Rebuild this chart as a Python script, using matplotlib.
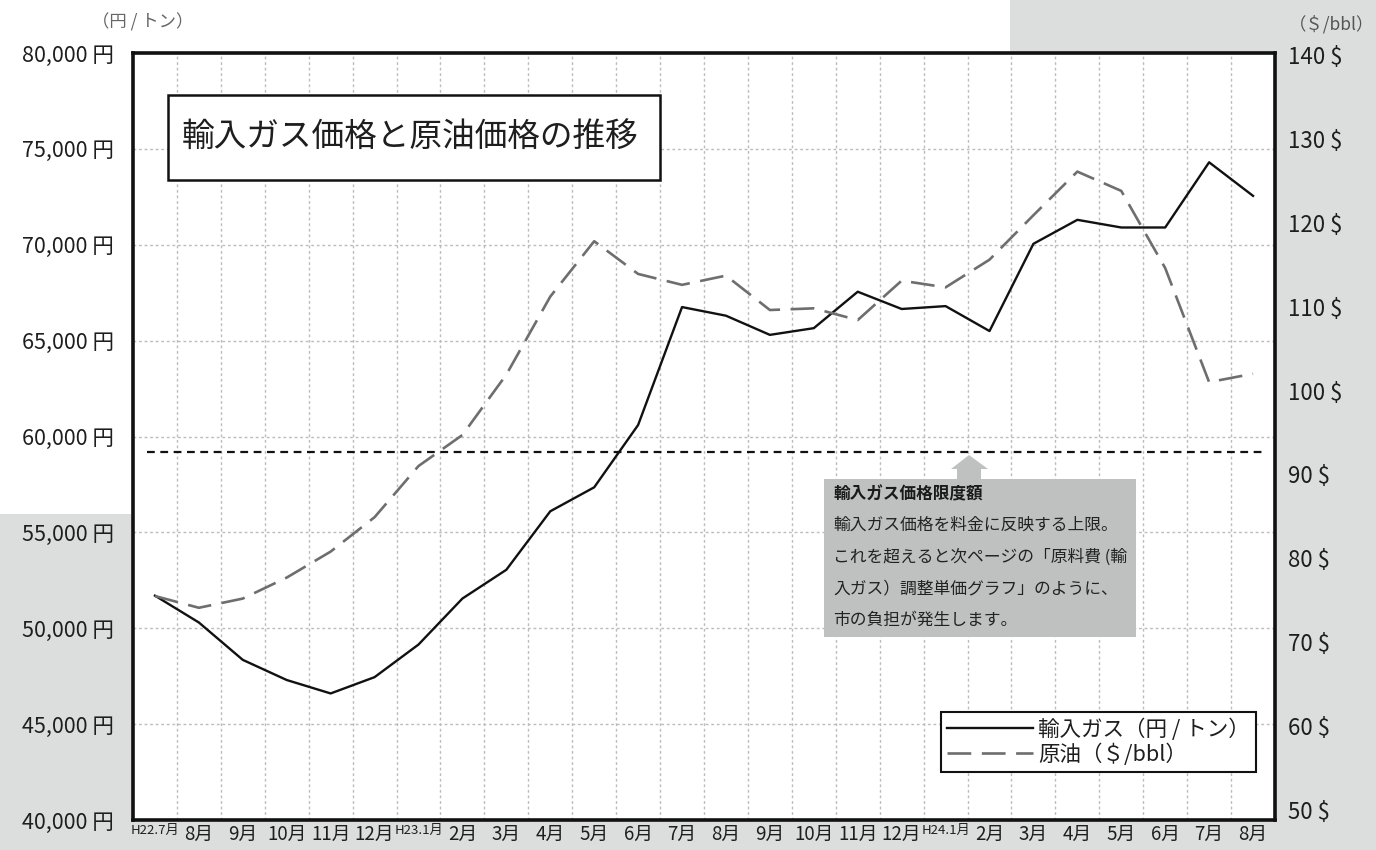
import matplotlib
matplotlib.use("Agg")
import matplotlib.pyplot as plt
from matplotlib.patches import Rectangle, Polygon
import numpy as np

plt.rcParams['font.family'] = ['Noto Sans CJK JP', 'DejaVu Sans']

months = ["H22.7月", "8月", "9月", "10月", "11月", "12月", "H23.1月", "2月", "3月", "4月",
          "5月", "6月", "7月", "8月", "9月", "10月", "11月", "12月", "H24.1月", "2月",
          "3月", "4月", "5月", "6月", "7月", "8月"]
gas_yen_per_ton = [51700, 50300, 48350, 47300, 46600, 47450, 49150, 51550, 53050, 56100,
                   57350, 60600, 66750, 66300, 65300, 65650, 67550, 66650, 66800, 65500,
                   70050, 71300, 70900, 70900, 74300, 72550]
crude_usd_per_bbl = [75.5, 74.1, 75.2, 77.7, 80.8, 84.9, 91.0, 94.7, 101.9, 111.2,
                     117.8, 113.9, 112.6, 113.7, 109.6, 109.8, 108.4, 113.1, 112.3, 115.6,
                     120.9, 126.1, 123.8, 114.6, 101.0, 102.0]
gas_limit = 59200
left_ticks = [40000, 45000, 50000, 55000, 60000, 65000, 70000, 75000, 80000]
right_ticks = [50, 60, 70, 80, 90, 100, 110, 120, 130, 140]

W, H = 1376, 850
fig = plt.figure(figsize=(W / 100, H / 100), dpi=100)
fig.patch.set_facecolor('#dcdddd')

def fx(px):
    return px / W

def fy(py):
    return 1 - py / H

# white background regions
fig.patches.append(Rectangle((0, fy(53)), fx(1010), 53 / H, transform=fig.transFigure,
                             facecolor='white', edgecolor='none', zorder=-10))
fig.patches.append(Rectangle((0, fy(514)), fx(133), (514 - 53) / H, transform=fig.transFigure,
                             facecolor='white', edgecolor='none', zorder=-10))

ax_l, ax_r, ax_t, ax_b = 133, 1275, 53, 820
ax = fig.add_axes([fx(ax_l), fy(ax_b), (ax_r - ax_l) / W, (ax_b - ax_t) / H])
ax.set_facecolor('white')
x = np.arange(len(months))

ax.set_xlim(-0.5, len(months) - 0.5)
ax.set_ylim(40000, 80000)
ax.set_yticks(left_ticks)
ax.set_yticklabels([f"{v:,} 円" for v in left_ticks], fontsize=15.5, color='#1e1e1e')
ax.set_xticks(x)
ax.set_xticklabels(months, fontsize=13.5, color='#1e1e1e')
for lbl in ax.get_xticklabels():
    if lbl.get_text().startswith('H'):
        lbl.set_fontsize(9.5)
ax.set_xticks(np.arange(len(months) - 1) + 0.5, minor=True)
ax.tick_params(axis='both', which='both', length=0)
ax.tick_params(axis='y', pad=14)
ax.tick_params(axis='x', pad=3)
ax.grid(True, axis='y', which='major', linestyle=(0, (2, 2)), color='#bcbcbc', lw=1)
ax.grid(True, axis='x', which='minor', linestyle=(0, (2, 2)), color='#bcbcbc', lw=1)
for s in ax.spines.values():
    s.set_linewidth(2.6)
    s.set_color('#111111')

ax.axhline(gas_limit, xmin=(147 - ax_l) / (ax_r - ax_l), xmax=(1262 - ax_l) / (ax_r - ax_l),
           color='#111111', lw=1.6, linestyle=(0, (3.5, 2.5)), zorder=2)

gas_line, = ax.plot(x, gas_yen_per_ton, color='#111111', lw=1.7, zorder=3)

ax2 = ax.twinx()
ax2.set_ylim(48.8, 140.24)
ax2.set_yticks(right_ticks)
ax2.set_yticklabels([f"{v} $" for v in right_ticks], fontsize=16, color='#1e1e1e')
ax2.tick_params(axis='y', length=0, pad=9)
for s in ax2.spines.values():
    s.set_visible(False)
crude_line, = ax2.plot(x, crude_usd_per_bbl, color='#6e6e6e', lw=1.9,
                       linestyle=(0, (9, 4)), zorder=3)

def axx(px):
    return (px - ax_l) / (ax_r - ax_l)

def axy(py):
    return (ax_b - py) / (ax_b - ax_t)

# title box
ax2.add_patch(Rectangle((axx(168), axy(180)), axx(660) - axx(168), axy(95) - axy(180),
                        transform=ax2.transAxes, facecolor='white', edgecolor='#111111',
                        lw=1.8, zorder=5))
ax2.text(axx(182), axy(137), "輸入ガス価格と原油価格の推移", transform=ax2.transAxes,
         fontsize=23.5, color='#1e1e1e', va='center', ha='left', zorder=6)

# annotation box with arrow
box_c = '#bfc0c0'
ax2.add_patch(Rectangle((axx(824), axy(637)), axx(1136) - axx(824), axy(479) - axy(637),
                        transform=ax2.transAxes, facecolor=box_c, edgecolor='none', zorder=5))
arrow_pts = [(axx(957), axy(480)), (axx(957), axy(469)), (axx(951), axy(469)),
             (axx(969), axy(455)), (axx(988), axy(469)), (axx(981), axy(469)),
             (axx(981), axy(480))]
ax2.add_patch(Polygon(arrow_pts, closed=True, transform=ax2.transAxes, facecolor=box_c,
                      edgecolor='none', zorder=5))
ann_lines = ["輸入ガス価格を料金に反映する上限。",
             "これを超えると次ページの「原料費 (輸",
             "入ガス）調整単価グラフ」のように、",
             "市の負担が発生します。"]
ax2.text(axx(833), axy(494), "輸入ガス価格限度額", transform=ax2.transAxes, fontsize=12,
         fontweight='bold', color='#1a1a1a', va='center', ha='left', zorder=6)
for t, py in zip(ann_lines, [525, 557, 589, 620]):
    ax2.text(axx(833), axy(py), t, transform=ax2.transAxes, fontsize=12.1,
             color='#222222', va='center', ha='left', zorder=6)

# legend
leg = ax2.legend([gas_line, crude_line], ["輸入ガス（円 / トン）", "原油（＄/bbl）"],
                 loc='lower right', bbox_to_anchor=(axx(1256), axy(772)), borderaxespad=0,
                 fontsize=15.5, frameon=True, fancybox=False, edgecolor='#111111',
                 framealpha=1, handlelength=4.0, handletextpad=0.2, labelspacing=0.1,
                 borderpad=0.3)
leg.get_frame().set_linewidth(1.5)
leg.set_zorder(7)
for t in leg.get_texts():
    t.set_color('#1e1e1e')

# unit labels
fig.text(fx(92), fy(22), "（円 / トン）", fontsize=12.5, color='#666666', va='center', ha='left')
fig.text(fx(1374), fy(24), "（＄/bbl）", fontsize=12.5, color='#555555', va='center', ha='right')

fig.savefig("out.png", dpi=100, facecolor=fig.get_facecolor())
